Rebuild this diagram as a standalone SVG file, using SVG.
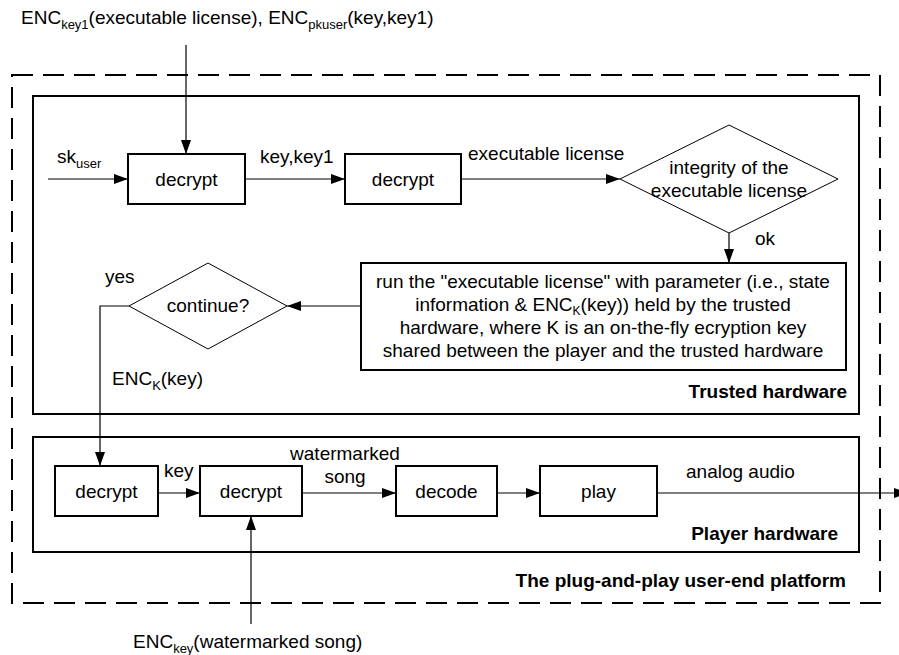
<svg xmlns="http://www.w3.org/2000/svg" width="899" height="655" viewBox="0 0 899 655">
<style>
text{font-family:"Liberation Sans",Arial,Helvetica,sans-serif;font-size:19px;fill:#000}
.b{font-weight:bold}
.m{text-anchor:middle}
.e{text-anchor:end}
.box{fill:#fff;stroke:#000;stroke-width:2}
.dia{fill:#fff;stroke:#000;stroke-width:1}
.frame{fill:none;stroke:#000;stroke-width:2}
.dash{fill:none;stroke:#000;stroke-width:2;stroke-dasharray:21 10}
.conn{fill:none;stroke:#000;stroke-width:1.2;marker-end:url(#arr)}
.sub{font-size:13px}
.sub2{font-size:12px}
</style>
<defs>
<marker id="arr" markerUnits="userSpaceOnUse" markerWidth="14" markerHeight="10" refX="14" refY="5" orient="auto">
<path d="M0,0 L14,5 L0,10 z" fill="#000"/>
</marker>
</defs>
<g id="platform">
<rect class="dash" x="12" y="75" width="868" height="528"/>
<text class="b e" x="846" y="587">The plug-and-play user-end platform</text>
</g>
<g id="trusted-hardware">
<rect class="frame" x="33" y="96" width="826" height="318"/>
<text class="b e" x="847" y="398">Trusted hardware</text>
</g>
<g id="player-hardware">
<rect class="frame" x="33" y="437" width="826" height="115"/>
<text class="b e" x="838" y="540">Player hardware</text>
</g>
<g id="connectors">
<path class="conn" d="M186,45 V154"/>
<path class="conn" d="M48,179 H128"/>
<path class="conn" d="M245,179 H345"/>
<path class="conn" d="M461,179 H620"/>
<path class="conn" d="M729,233 V263"/>
<path class="conn" d="M361,306 H287"/>
<path class="conn" d="M129,306 H100 V466"/>
<path class="conn" d="M158,493 H200"/>
<path class="conn" d="M302,493 H396"/>
<path class="conn" d="M497,493 H540"/>
<path class="conn" d="M657,493 H908"/>
<path class="conn" d="M251,624 V516"/>
</g>
<g id="labels">
<text x="21" y="24">ENC<tspan class="sub" dy="5">key1</tspan><tspan dy="-5">(executable license), ENC</tspan><tspan class="sub" dy="5">pkuser</tspan><tspan dy="-5">(key,key1)</tspan></text>
<text x="57" y="163">sk<tspan class="sub" dy="5">user</tspan></text>
<text x="260" y="163">key,key1</text>
<text x="468" y="160">executable license</text>
<text x="755" y="245">ok</text>
<text x="105" y="283">yes</text>
<text x="112" y="385">ENC<tspan class="sub" dy="5">K</tspan><tspan dy="-5">(key)</tspan></text>
<text x="164" y="477">key</text>
<text class="m" x="345" y="460">watermarked</text>
<text class="m" x="345" y="483">song</text>
<text x="686" y="478">analog audio</text>
<text x="133" y="648">ENC<tspan class="sub" dy="5">key</tspan><tspan dy="-5">(watermarked song)</tspan></text>
</g>
<g id="decrypt1">
<rect class="box" x="128" y="154" width="117" height="50"/>
<text class="m" x="186.5" y="186">decrypt</text>
</g>
<g id="decrypt2">
<rect class="box" x="345" y="154" width="116" height="50"/>
<text class="m" x="403" y="186">decrypt</text>
</g>
<g id="integrity">
<polygon class="dia" points="729,125 838,179 729,233 620,179" fill="none"/>
<text class="m" x="729" y="174">integrity of the</text>
<text class="m" x="729" y="197">executable license</text>
</g>
<g id="run-license">
<rect class="box" x="361" y="263" width="485" height="107"/>
<text class="m" x="603" y="288">run the "executable license" with parameter (i.e., state</text>
<text class="m" x="603" y="311">information &amp; ENC<tspan class="sub2" dy="4">K</tspan><tspan dy="-4">(key)) held by the trusted</tspan></text>
<text class="m" x="603" y="334">hardware, where K is an on-the-fly ecryption key</text>
<text class="m" x="603" y="357">shared between the player and the trusted hardware</text>
</g>
<g id="continue">
<polygon class="dia" points="208,263 287,306 208,349 129,306"/>
<text class="m" x="208" y="312">continue?</text>
</g>
<g id="decrypt3">
<rect class="box" x="55" y="466" width="103" height="50"/>
<text class="m" x="106.5" y="498">decrypt</text>
</g>
<g id="decrypt4">
<rect class="box" x="200" y="466" width="102" height="50"/>
<text class="m" x="251" y="498">decrypt</text>
</g>
<g id="decode">
<rect class="box" x="396" y="466" width="101" height="50"/>
<text class="m" x="446.5" y="498">decode</text>
</g>
<g id="play">
<rect class="box" x="540" y="466" width="117" height="50"/>
<text class="m" x="598.5" y="498">play</text>
</g>
</svg>
